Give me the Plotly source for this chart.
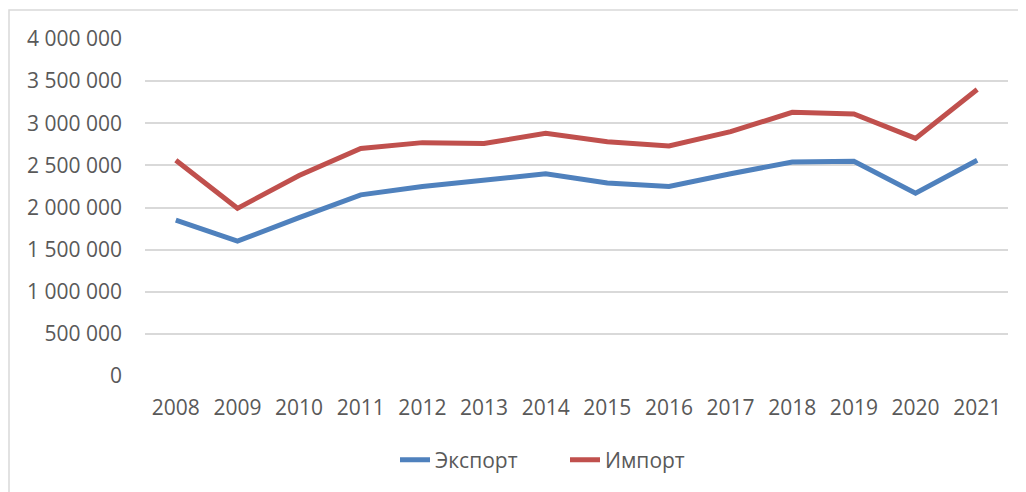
import plotly.graph_objects as go

years = ["2008", "2009", "2010", "2011", "2012", "2013", "2014",
         "2015", "2016", "2017", "2018", "2019", "2020", "2021"]
export_vals = [1850000, 1600000, 1880000, 2150000, 2250000, 2320000, 2400000,
               2290000, 2250000, 2400000, 2540000, 2550000, 2170000, 2560000]
import_vals = [2560000, 1990000, 2380000, 2700000, 2770000, 2760000, 2880000,
               2780000, 2730000, 2900000, 3130000, 3110000, 2820000, 3400000]
y_ticks = [0, 500000, 1000000, 1500000, 2000000, 2500000, 3000000, 3500000, 4000000]

# the page body adds an 8px offset, so figure coords = screen coords - 8
W, H = 1018, 484
L, R, T, B = 137, 18, 31, 116
pw, ph = W - L - R, H - T - B

font = "Open Sans, Segoe UI, sans-serif"
fig = go.Figure()
fig.add_trace(go.Scatter(x=years, y=export_vals, mode="lines", name="Экспорт",
                         line=dict(color="#4F81BD", width=5)))
fig.add_trace(go.Scatter(x=years, y=import_vals, mode="lines", name="Импорт",
                         line=dict(color="#C0504D", width=5)))

fig.update_layout(
    width=W, height=H,
    margin=dict(l=L, r=R, t=T, b=B, autoexpand=False),
    paper_bgcolor="white", plot_bgcolor="white",
    separators=", ",
    font=dict(family=font, size=21, color="#595959"),
    showlegend=True,
    legend=dict(orientation="h", x=(387 - L) / pw, xanchor="left",
                y=(T + ph - 452) / ph, yanchor="middle",
                font=dict(size=21, color="#595959"), itemwidth=30,
                entrywidth=125, entrywidthmode="pixels",
                traceorder="normal"),
    xaxis=dict(type="category", range=[-0.5, len(years) - 0.5],
               showgrid=False, showline=False, ticks="", zeroline=False,
               ticklabelstandoff=17),
    yaxis=dict(range=[0, 4000000], tickvals=y_ticks, tickformat=",d",
               showgrid=True, gridcolor="#D9D9D9", gridwidth=1.5,
               zeroline=False, showline=False, ticks="",
               ticklabelstandoff=22),
    shapes=[dict(type="rect", xref="paper", yref="paper",
                 x0=(1 - L) / pw, x1=(W + 5 - L) / pw,
                 y0=(T + ph - (H + 5)) / ph, y1=(T + ph - 2) / ph,
                 line=dict(color="#D9D9D9", width=1.5), fillcolor="rgba(0,0,0,0)",
                 layer="below")],
)

fig.write_html("out.html")
